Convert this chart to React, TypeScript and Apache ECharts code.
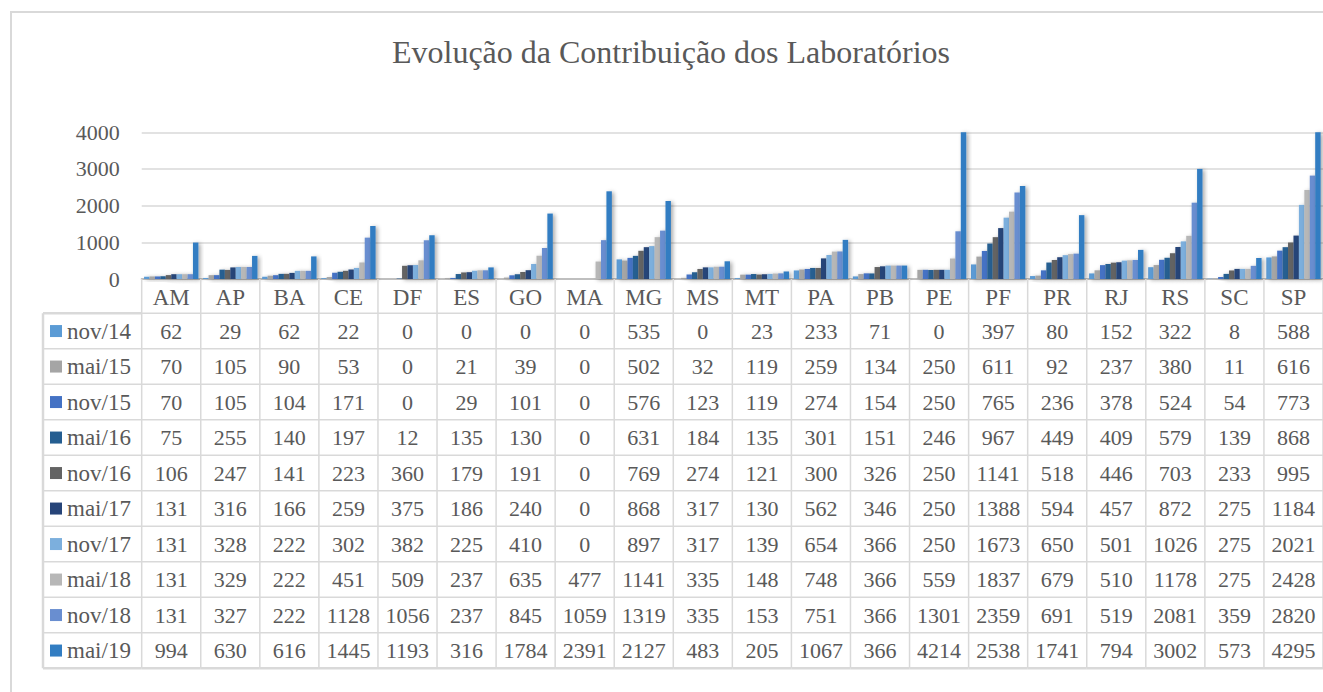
import React, { useEffect, useRef } from "react";
import * as echarts from "echarts";

const CATEGORIES = ["AM","AP","BA","CE","DF","ES","GO","MA","MG","MS","MT","PA","PB","PE","PF","PR","RJ","RS","SC","SP"];
const PERIODS = ["nov/14","mai/15","nov/15","mai/16","nov/16","mai/17","nov/17","mai/18","nov/18","mai/19"];

const nov14 = [62,29,62,22,0,0,0,0,535,0,23,233,71,0,397,80,152,322,8,588];
const mai15 = [70,105,90,53,0,21,39,0,502,32,119,259,134,250,611,92,237,380,11,616];
const nov15 = [70,105,104,171,0,29,101,0,576,123,119,274,154,250,765,236,378,524,54,773];
const mai16 = [75,255,140,197,12,135,130,0,631,184,135,301,151,246,967,449,409,579,139,868];
const nov16 = [106,247,141,223,360,179,191,0,769,274,121,300,326,250,1141,518,446,703,233,995];
const mai17 = [131,316,166,259,375,186,240,0,868,317,130,562,346,250,1388,594,457,872,275,1184];
const nov17 = [131,328,222,302,382,225,410,0,897,317,139,654,366,250,1673,650,501,1026,275,2021];
const mai18 = [131,329,222,451,509,237,635,477,1141,335,148,748,366,559,1837,679,510,1178,275,2428];
const nov18 = [131,327,222,1128,1056,237,845,1059,1319,335,153,751,366,1301,2359,691,519,2081,359,2820];
const mai19 = [994,630,616,1445,1193,316,1784,2391,2127,483,205,1067,366,4214,2538,1741,794,3002,573,4295];

const SERIES_VALUES = [nov14, mai15, nov15, mai16, nov16, mai17, nov17, mai18, nov18, mai19];
const Y_MAX = 4000;
const Y_INTERVAL = 1000;

const COLORS = ["#5B9BD5","#A5A5A5","#4472C4","#255E91","#636363","#264478","#7CAFDD","#B7B7B7","#698ED0","#327DC2"];

const FONT = "Liberation Serif";
const TEXT_COLOR = "#595959";
const LINE_COLOR = "#D9D9D9";
const HEADER_H = 34.3;
const ROW_H = 35.5;
const LEGEND_LEFT = 43;

export default function App() {
  const ref = useRef<HTMLDivElement>(null);
  useEffect(() => {
    if (!ref.current) return;
    const chart = echarts.init(ref.current, undefined, { renderer: "svg" });

    const barSeries = PERIODS.map((p, k) => ({
      name: p,
      type: "bar",
      data: SERIES_VALUES[k],
      barGap: "0%",
      barCategoryGap: "8%",
      clip: true,
      itemStyle: {
        color: COLORS[k],
        shadowColor: "rgba(0,0,0,0.35)",
        shadowBlur: 4,
        shadowOffsetX: 2,
        shadowOffsetY: 1,
      },
    }));

    const tableSeries = {
      type: "custom",
      name: "table",
      silent: true,
      clip: false,
      z: 5,
      data: CATEGORIES.map((_, i) => [i, 0]),
      renderItem: (params: any, api: any) => {
        const i = api.value(0);
        const pt = api.coord([i, 0]);
        const cx = pt[0];
        const y0 = pt[1];
        const bw = api.size([1, 0])[0];
        const left = cx - bw / 2;
        const right = cx + bw / 2;
        const top = y0 + HEADER_H;
        const bottom = top + ROW_H * PERIODS.length;
        const children: any[] = [];
        children.push({ type: "line", shape: { x1: left, y1: y0, x2: left, y2: bottom }, style: { stroke: LINE_COLOR, lineWidth: 1.5 } });
        if (i === CATEGORIES.length - 1) {
          children.push({ type: "line", shape: { x1: right, y1: y0, x2: right, y2: bottom }, style: { stroke: LINE_COLOR, lineWidth: 1.5 } });
        }
        for (let r = 0; r <= PERIODS.length; r++) {
          const y = top + r * ROW_H;
          children.push({ type: "line", shape: { x1: left, y1: y, x2: right, y2: y }, style: { stroke: LINE_COLOR, lineWidth: r === PERIODS.length ? 2.5 : 1.5 } });
        }
        for (let r = 0; r < PERIODS.length; r++) {
          children.push({
            type: "text",
            style: {
              text: String(SERIES_VALUES[r][i]),
              x: cx,
              y: top + (r + 0.5) * ROW_H,
              align: "center",
              verticalAlign: "middle",
              fontSize: 22,
              fontFamily: FONT,
              fill: TEXT_COLOR,
            },
          });
        }
        if (i === 0) {
          children.push({ type: "line", shape: { x1: LEGEND_LEFT, y1: top, x2: LEGEND_LEFT, y2: bottom }, style: { stroke: LINE_COLOR, lineWidth: 2.5 } });
          for (let r = 0; r <= PERIODS.length; r++) {
            const y = top + r * ROW_H;
            children.push({ type: "line", shape: { x1: LEGEND_LEFT, y1: y, x2: left, y2: y }, style: { stroke: LINE_COLOR, lineWidth: r === PERIODS.length || r === 0 ? 2.5 : 1.5 } });
          }
        }
        return { type: "group", children };
      },
    };

    chart.setOption({
      animation: false,
      textStyle: { fontFamily: FONT },
      title: {
        text: "Evolução da Contribuição dos Laboratórios",
        left: 666,
        top: 31,
        textAlign: "center",
        textStyle: { fontFamily: FONT, fontSize: 32, fontWeight: "normal", color: TEXT_COLOR },
      },
      graphic: [
        {
          type: "rect",
          shape: { x: 11, y: 12, width: 1400, height: 800 },
          style: { fill: "none", stroke: LINE_COLOR, lineWidth: 2 },
          silent: true,
          z: -10,
        },
      ],
      legend: {
        data: PERIODS,
        orient: "vertical",
        left: 50,
        top: 279 + HEADER_H,
        itemGap: 0,
        itemWidth: 12,
        itemHeight: 12,
        icon: "rect",
        padding: 0,
        selectedMode: false,
        itemStyle: { shadowBlur: 0, shadowOffsetX: 0, shadowOffsetY: 0 },
        textStyle: { fontFamily: FONT, fontSize: 23, color: TEXT_COLOR, lineHeight: ROW_H },
      },
      grid: { left: 141.7, right: -4.7, top: 132.3, bottom: 692 - 279, containLabel: false },
      xAxis: {
        type: "category",
        data: CATEGORIES,
        axisLine: { show: true, lineStyle: { color: "#BFBFBF", width: 2 } },
        axisTick: { show: false },
        axisLabel: { fontFamily: FONT, fontSize: 23, color: TEXT_COLOR, margin: 18, verticalAlign: "middle", interval: 0 },
        splitLine: { show: false },
      },
      yAxis: {
        type: "value",
        min: 0,
        max: Y_MAX,
        interval: Y_INTERVAL,
        axisLine: { show: false },
        axisTick: { show: false },
        axisLabel: { fontFamily: FONT, fontSize: 22, color: TEXT_COLOR, margin: 22, formatter: (v: number) => String(v) },
        splitLine: { lineStyle: { color: LINE_COLOR, width: 1.5 } },
      },
      series: [...barSeries, tableSeries],
    });
    return () => chart.dispose();
  }, []);
  return <div ref={ref} style={{ position: "absolute", left: 0, top: 0, width: 1323, height: 692, overflow: "hidden" }} />;
}
